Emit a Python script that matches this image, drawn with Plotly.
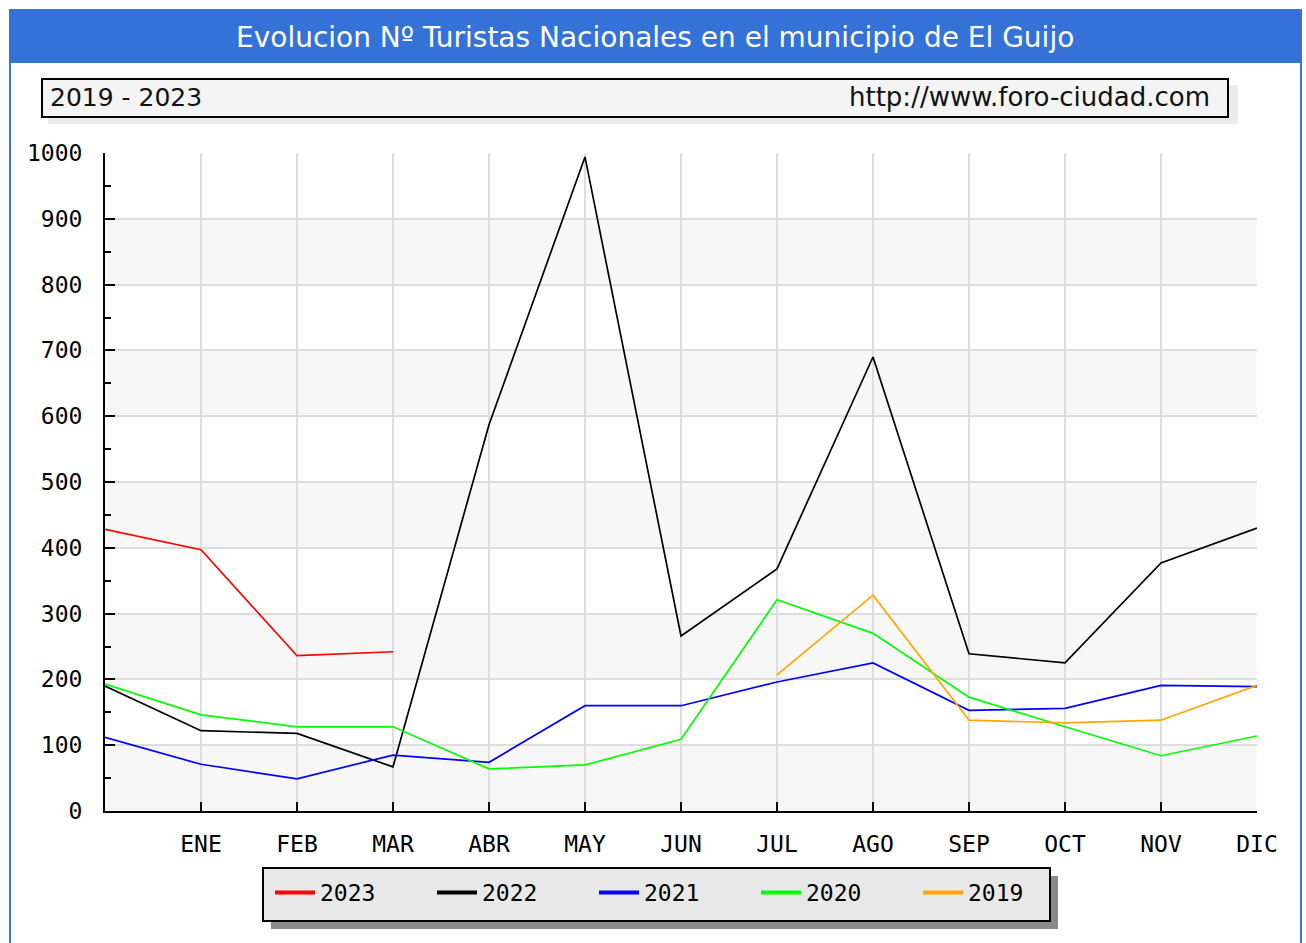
import plotly.graph_objects as go

# ---------------- data ----------------
positions = list(range(13))
tick_labels = ["", "ENE", "FEB", "MAR", "ABR", "MAY", "JUN", "JUL", "AGO", "SEP", "OCT", "NOV", "DIC"]

y2023 = [428, 397, 236, 242, None, None, None, None, None, None, None, None, None]
y2022 = [190, 122, 118, 67, 587, 994, 266, 368, 690, 239, 225, 377, 430]
y2021 = [112, 71, 49, 85, 74, 160, 160, 196, 225, 153, 156, 191, 189]
y2020 = [193, 146, 128, 128, 64, 70, 109, 321, 270, 173, 128, 84, 114]
y2019 = [None, None, None, None, None, None, None, 207, 328, 138, 134, 138, 191]

series_names = ["2023", "2022", "2021", "2020", "2019"]
series_values = [y2023, y2022, y2021, y2020, y2019]
series_colors = ["#ff0000", "#000000", "#0000ff", "#00ff00", "#ffa500"]

title_text = "Evolucion Nº Turistas Nacionales en el municipio de El Guijo"
period_text = "2019 - 2023"
url_text = "http://www.foro-ciudad.com"

# ---------------- layout geometry (pixels) ----------------
W, H = 1306, 943
PL, PR, PT, PB = 105, 1257, 153, 811


def px(x):
    return (x - PL) / (PR - PL)


def py(y):
    return (PB - y) / (PB - PT)


MONO = "DejaVu Sans Mono"
SANS = "DejaVu Sans"

fig = go.Figure()
for name, vals, col in zip(series_names, series_values, series_colors):
    fig.add_trace(go.Scatter(
        x=positions, y=vals, mode="lines", name=name, legendgroup=name, showlegend=False,
        line=dict(color=col, width=1.7), connectgaps=False,
    ))
# legend entries (thick sample lines, no data of their own)
for name, col in zip(series_names, series_colors):
    fig.add_trace(go.Scatter(
        x=[None], y=[None], mode="lines", name=name, legendgroup=name, showlegend=True,
        line=dict(color=col, width=4), hoverinfo="skip",
    ))

shapes = []
# alternating background bands
for lo in range(0, 1000, 200):
    shapes.append(dict(type="rect", xref="paper", yref="y", x0=0, x1=1, y0=lo, y1=lo + 100,
                       fillcolor="#f7f7f7", line=dict(width=0), layer="below"))
# blue frame and title bar
shapes.append(dict(type="rect", xref="paper", yref="paper", x0=px(10), x1=px(1301), y0=py(945), y1=py(10),
                   fillcolor="rgba(0,0,0,0)", line=dict(color="#3a74d9", width=2), layer="below"))
shapes.append(dict(type="rect", xref="paper", yref="paper", x0=px(10), x1=px(1301), y0=py(63), y1=py(10),
                   fillcolor="#3572d8", line=dict(width=0), layer="below"))
# subtitle box shadow + box
shapes.append(dict(type="rect", xref="paper", yref="paper", x0=px(48), x1=px(1238), y0=py(124), y1=py(85),
                   fillcolor="#ececec", line=dict(width=0), layer="below"))
shapes.append(dict(type="rect", xref="paper", yref="paper", x0=px(42), x1=px(1228), y0=py(117), y1=py(79),
                   fillcolor="#f4f4f4", line=dict(color="#000000", width=2), layer="below"))
# legend shadow + box
shapes.append(dict(type="rect", xref="paper", yref="paper", x0=px(271), x1=px(1058), y0=py(929), y1=py(876),
                   fillcolor="#8a8a8a", line=dict(width=0), layer="below"))
shapes.append(dict(type="rect", xref="paper", yref="paper", x0=px(263), x1=px(1050), y0=py(921), y1=py(868),
                   fillcolor="#e8e8e8", line=dict(color="#000000", width=2), layer="below"))

annotations = [
    dict(text=title_text, xref="paper", yref="paper", x=px(655), y=py(37), xanchor="center", yanchor="middle",
         showarrow=False, font=dict(family=SANS, size=28, color="#ffffff")),
    dict(text=period_text, xref="paper", yref="paper", x=px(48), y=py(97), xanchor="left", yanchor="middle",
         showarrow=False, font=dict(family=SANS, size=25, color="#111111")),
    dict(text=url_text, xref="paper", yref="paper", x=px(1212), y=py(97), xanchor="right", yanchor="middle",
         showarrow=False, font=dict(family=SANS, size=26, color="#111111")),
]

fig.update_layout(
    width=W, height=H,
    margin=dict(l=PL, r=W - PR, t=PT, b=H - PB, pad=0, autoexpand=False),
    paper_bgcolor="#ffffff", plot_bgcolor="#ffffff",
    shapes=shapes, annotations=annotations,
    showlegend=True,
    legend=dict(
        orientation="h", x=px(270), y=py(871), xanchor="left", yanchor="top",
        bgcolor="rgba(0,0,0,0)", borderwidth=0,
        font=dict(family=MONO, size=23, color="#000000"),
        entrywidth=107, entrywidthmode="pixels", itemwidth=40,
        traceorder="normal", itemclick=False, itemdoubleclick=False,
    ),
    xaxis=dict(
        range=[0, 12], tickmode="array", tickvals=positions, ticktext=tick_labels,
        showgrid=True, gridcolor="#dddddd", gridwidth=2,
        ticks="inside", ticklen=9, tickcolor="#000000", tickwidth=2,
        showline=True, linecolor="#000000", linewidth=2,
        tickfont=dict(family=MONO, size=23, color="#000000"),
        ticklabelstandoff=11, zeroline=False, fixedrange=True,
    ),
    yaxis=dict(
        range=[0, 1000], tickmode="linear", tick0=0, dtick=100,
        showgrid=True, gridcolor="#dddddd", gridwidth=2,
        ticks="inside", ticklen=10, tickcolor="#000000", tickwidth=2,
        showline=True, linecolor="#000000", linewidth=2,
        tickfont=dict(family=MONO, size=23, color="#000000"),
        ticklabelstandoff=16, zeroline=False, fixedrange=True,
        minor=dict(ticks="inside", ticklen=6, tickcolor="#000000", tickwidth=2, dtick=50, showgrid=False),
    ),
)

fig.write_html("out.html", config={"displayModeBar": False},
               post_script="document.body.style.margin='0';document.body.style.overflow='hidden';")
